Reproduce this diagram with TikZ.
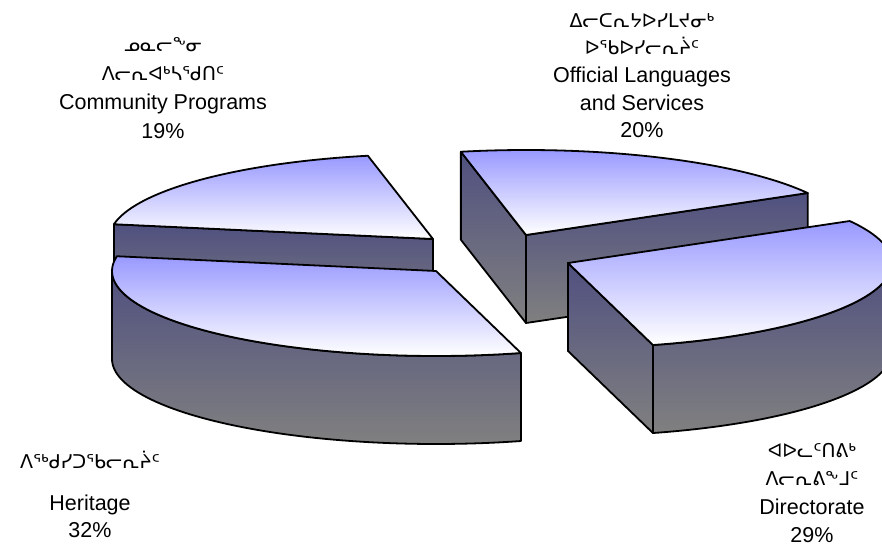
\documentclass[tikz,border=0pt]{standalone}
\usepackage{fontspec}
\setmainfont{Liberation Sans}
\newfontfamily\sylfont{DejaVu Sans}
\definecolor{topblue}{RGB}{153,153,255}
\definecolor{sidetop}{RGB}{80,80,128}
\definecolor{sidebot}{RGB}{128,128,128}
\tikzset{
  topface/.style={top color=topblue, bottom color=white, draw=black, line width=1.8pt, line join=round},
  sideface/.style={top color=sidetop, bottom color=sidebot, draw=black, line width=1.8pt, line join=round},
  lab/.style={anchor=base, inner sep=0pt, font=\fontsize{21.5}{25}\selectfont},
  syl/.style={anchor=base, inner sep=0pt, font=\sylfont\fontsize{19}{23}\selectfont}
}
% radii of the pie and its depth
\def\ra{324}
\def\rb{85}
\def\hh{88}
\newcommand{\pietop}[4]{%
  \shade[topface] (#1,#2) -- plot[domain=#3:#4,samples=60] ({#1+\ra*cos(\x)},{#2+\rb*sin(\x)}) -- cycle;}
\newcommand{\pieside}[3]{%
  \shade[sideface] (#1,#2) -- ({#1+\ra*cos(#3)},{#2+\rb*sin(#3)}) -- ({#1+\ra*cos(#3)},{#2+\rb*sin(#3)+\hh}) -- (#1,{#2+\hh}) -- cycle;}
\newcommand{\pierim}[4]{%
  \shade[sideface] plot[domain=#3:#4,samples=60] ({#1+\ra*cos(\x)},{#2+\rb*sin(\x)}) -- plot[domain=#4:#3,samples=60] ({#1+\ra*cos(\x)},{#2+\rb*sin(\x)+\hh}) -- cycle;}

\begin{document}
\begin{tikzpicture}[x=1pt,y=-1pt]
        \clip (0,0) rectangle (882,546);
        % community programs
        \pieside{433}{239}{190}
        \pietop{433}{239}{190}{258.4}
        % official languages
        \pieside{526}{235}{258.4}
        \pieside{526}{235}{330.4}
        \pietop{526}{235}{258.4}{330.4}
        % heritage
        \pierim{436}{271}{74.8}{180}
        \pietop{436}{271}{74.8}{190}
        % directorate
        \pieside{568}{263}{74.8}
        \pierim{568}{263}{0}{74.8}
        \pietop{568}{263}{330.4}{434.8}
        % labels
        \node[syl] (cpA) at (163,51) {ᓄᓇᓕᖕᓂ};
        \node[syl] (cpB) at (163,80) {ᐱᓕᕆᐊᒃᓴᖁᑎᑦ};
        \node[lab] (cpC) at (163,109) {Community Programs};
        \node[lab] (cpD) at (163,138) {19\%};
        \node[syl] (olA) at (642,27) {ᐃᓕᑕᕆᔭᐅᓯᒪᔪᓂᒃ};
        \node[syl] (olB) at (642,54) {ᐅᖃᐅᓯᓕᕆᔩᑦ};
        \node[lab] (olC) at (642,82) {Official Languages};
        \node[lab] (olD) at (642,110) {and Services};
        \node[lab] (olE) at (642,137) {20\%};
        \node[syl] (hrA) at (90,468) {ᐱᖅᑯᓯᑐᖃᓕᕆᔩᑦ};
        \node[lab] (hrB) at (90,510) {Heritage};
        \node[lab] (hrC) at (90,537) {32\%};
        \node[syl] (drA) at (812,457) {ᐊᐅᓚᑦᑎᕕᒃ};
        \node[syl] (drB) at (812,485) {ᐱᓕᕆᕕᖕᒧᑦ};
        \node[lab] (drC) at (812,514) {Directorate};
        \node[lab] (drD) at (812,542) {29\%};
\end{tikzpicture}
\end{document}
